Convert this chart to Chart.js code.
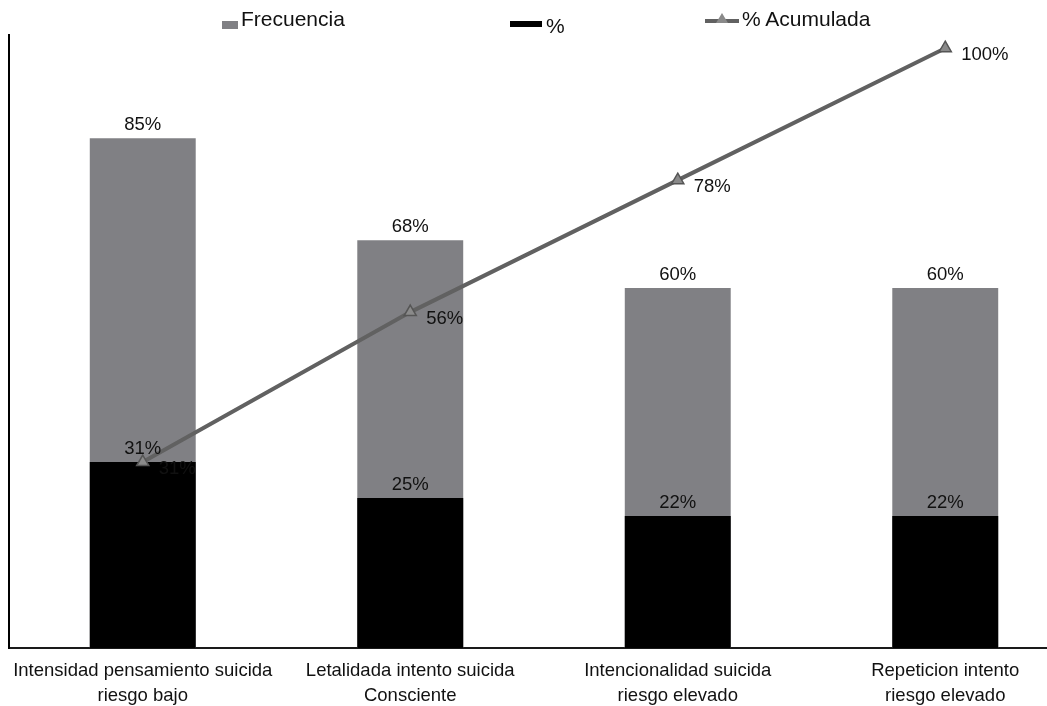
<!DOCTYPE html>
<html>
<head>
<meta charset="utf-8">
<script src="https://cdn.jsdelivr.net/npm/chart.js@4/dist/chart.umd.min.js"></script>
<style>
  html, body { margin: 0; padding: 0; background: #fff; overflow: hidden; }
  #wrap { position: relative; width: 1047px; height: 706px; overflow: hidden; }
  #chart { position: absolute; left: 0; top: 0; }
  #legend span { position: absolute; display: block; }
  #legend .txt { font: 21px "Liberation Sans", Arial, sans-serif; line-height: 21px; color: #111; white-space: nowrap; }
</style>
</head>
<body>
<div id="wrap">
  <canvas id="chart" width="1090" height="720"></canvas>
  <div id="legend">
    <span style="left:222px;top:21px;width:16px;height:8px;background:#808084"></span>
    <span class="txt" style="left:241px;top:8px">Frecuencia</span>
    <span style="left:510px;top:21px;width:32px;height:6px;background:#000"></span>
    <span class="txt" style="left:546px;top:15px">%</span>
    <span style="left:705px;top:19px;width:34px;height:4px;background:#616161"></span>
    <span style="left:716px;top:13px;width:0;height:0;border-left:6px solid transparent;border-right:6px solid transparent;border-bottom:10px solid #8a8a8a"></span>
    <span class="txt" style="left:742px;top:8px">% Acumulada</span>
  </div>
</div>
<script>
const categories = [
    ['Intensidad pensamiento suicida', 'riesgo bajo'],
    ['Letalidada intento suicida', 'Consciente'],
    ['Intencionalidad suicida', 'riesgo elevado'],
    ['Repeticion intento', 'riesgo elevado']
];
const frecuencia = [85, 68, 60, 60];
const porcentaje = [31, 25, 22, 22];
const acumulada = [31, 56, 78, 100];

const labelFont = '18.5px "Liberation Sans", Arial, sans-serif';

// writes the value labels: above bars, to the right of line points
const valueLabels = {
    id: 'valueLabels',
    afterDatasetsDraw(chart) {
        const ctx = chart.ctx;
        ctx.save();
        ctx.font = labelFont;
        ctx.fillStyle = '#111';
        chart.data.datasets.forEach((ds, i) => {
            const meta = chart.getDatasetMeta(i);
            meta.data.forEach((el, j) => {
                const text = ds.data[j] + '%';
                if (meta.type === 'bar') {
                    ctx.textAlign = 'center';
                    ctx.textBaseline = 'bottom';
                    ctx.fillText(text, el.x, el.y - 4);
                } else {
                    ctx.textAlign = 'left';
                    ctx.textBaseline = 'middle';
                    ctx.fillText(text, el.x + 16, el.y + 7);
                }
            });
        });
        ctx.restore();
    }
};

new Chart(document.getElementById('chart'), {
    data: {
        labels: categories,
        datasets: [
            {
                type: 'bar',
                label: 'Frecuencia',
                data: frecuencia,
                backgroundColor: '#808084',
                barPercentage: 1,
                categoryPercentage: 0.396,
                order: 2
            },
            {
                type: 'bar',
                label: '%',
                data: porcentaje,
                backgroundColor: '#000000',
                barPercentage: 1,
                categoryPercentage: 0.396,
                order: 1
            },
            {
                type: 'line',
                label: '% Acumulada',
                data: acumulada,
                borderColor: '#616161',
                borderWidth: 4,
                tension: 0,
                pointStyle: 'triangle',
                pointRadius: 7,
                pointBackgroundColor: '#8a8a8a',
                pointBorderColor: '#555555',
                pointBorderWidth: 1.5,
                order: 0
            }
        ]
    },
    options: {
        responsive: false,
        animation: false,
        layout: { padding: { left: 9, right: 11, top: 35, bottom: 0 } },
        plugins: {
            legend: { display: false },
            tooltip: { enabled: false }
        },
        scales: {
            x: {
                stacked: true,
                grid: { display: false, drawTicks: false },
                border: { display: true, color: '#1a1a1a', width: 2 },
                ticks: {
                    color: '#111',
                    padding: 11,
                    maxRotation: 0,
                    autoSkip: false,
                    font: { family: '"Liberation Sans", Arial, sans-serif', size: 18.5, lineHeight: 1.32 }
                },
                afterFit: (scale) => { scale.height = 72; }
            },
            y: {
                stacked: false,
                min: 0,
                max: 102.2,
                grid: { display: false, drawTicks: false },
                border: { display: true, color: '#000', width: 2 },
                ticks: { display: false },
                afterFit: (scale) => { scale.width = 0; }
            }
        }
    },
    plugins: [valueLabels]
});
</script>
</body>
</html>
